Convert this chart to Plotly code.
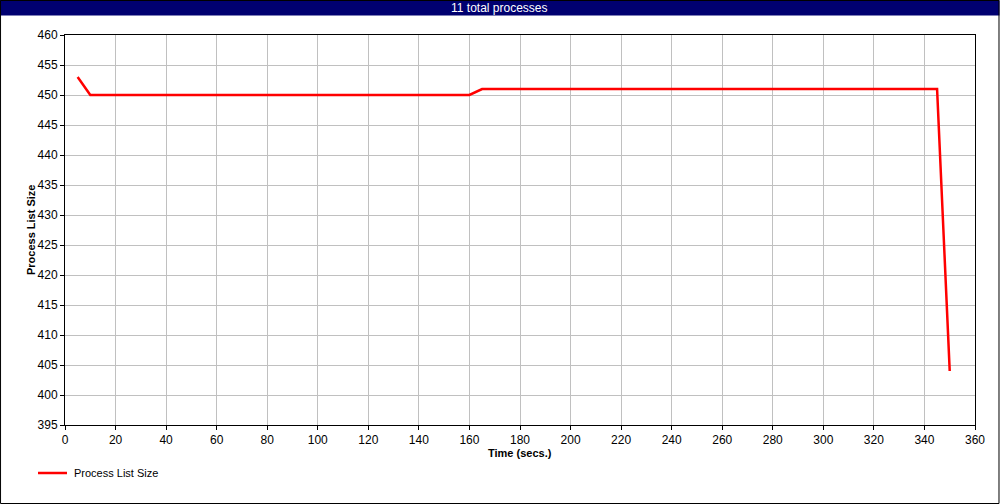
import plotly.graph_objects as go

time_secs = [5, 10, 15, 20, 25, 30, 35, 40, 45, 50, 55, 60, 65, 70, 75, 80, 85, 90, 95, 100,
             105, 110, 115, 120, 125, 130, 135, 140, 145, 150, 155, 160, 165, 170, 175, 180,
             185, 190, 195, 200, 205, 210, 215, 220, 225, 230, 235, 240, 245, 250, 255, 260,
             265, 270, 275, 280, 285, 290, 295, 300, 305, 310, 315, 320, 325, 330, 335, 340,
             345, 350]
process_list_size = [453, 450, 450, 450, 450, 450, 450, 450, 450, 450, 450, 450, 450, 450, 450,
                     450, 450, 450, 450, 450, 450, 450, 450, 450, 450, 450, 450, 450, 450, 450,
                     450, 450, 451, 451, 451, 451, 451, 451, 451, 451, 451, 451, 451, 451, 451,
                     451, 451, 451, 451, 451, 451, 451, 451, 451, 451, 451, 451, 451, 451, 451,
                     451, 451, 451, 451, 451, 451, 451, 451, 451, 404]
x_ticks = list(range(0, 361, 20))
y_ticks = list(range(395, 461, 5))

W, H = 1000, 504
L, R, T, B = 65, 24.5, 35, 79
pw, ph = W - L - R, H - T - B

def px(x):
    return (x - L) / pw

def py(y):
    return (H - B - y) / ph

font = dict(family="Liberation Sans, Arial, sans-serif", size=12, color="black")

fig = go.Figure()
fig.add_trace(go.Scatter(x=time_secs, y=process_list_size, mode="lines",
                         line=dict(color="#ff0000", width=2.5), name="Process List Size",
                         showlegend=False))

axis_common = dict(showline=True, linecolor="black", linewidth=1, mirror=True,
                   showgrid=True, gridcolor="#c0c0c0", gridwidth=1,
                   ticks="outside", ticklen=4, tickcolor="black",
                   tickfont=font, zeroline=False)

fig.update_layout(
    width=W, height=H,
    margin=dict(l=L, r=R, t=T, b=B, pad=0),
    paper_bgcolor="white", plot_bgcolor="white",
    font=font,
    xaxis=dict(range=[0, 360], tickvals=x_ticks, **axis_common),
    yaxis=dict(range=[395, 460], tickvals=y_ticks, **axis_common),
    shapes=[
        dict(type="rect", xref="paper", yref="paper", x0=px(0), x1=px(W), y0=py(15.5), y1=py(0),
             fillcolor="#000070", line=dict(width=0), layer="above"),
        dict(type="rect", xref="paper", yref="paper", x0=px(0.5), x1=px(W - 0.5), y0=py(H - 0.5), y1=py(0.5),
             line=dict(color="black", width=1), fillcolor="rgba(0,0,0,0)"),
        dict(type="line", xref="paper", yref="paper", x0=px(38), x1=px(67), y0=py(473), y1=py(473),
             line=dict(color="#ff0000", width=2.5)),
    ],
    annotations=[
        dict(text="11 total processes", xref="paper", yref="paper", x=px(W / 2), y=py(8),
             showarrow=False, font=dict(family="Liberation Sans, Arial, sans-serif", size=12, color="white"),
             xanchor="center", yanchor="middle"),
        dict(text="<b>Process List Size</b>", xref="paper", yref="paper", x=px(31), y=py(230),
             showarrow=False, textangle=-90, font=dict(family="Liberation Sans, Arial, sans-serif", size=11, color="black"),
             xanchor="center", yanchor="middle"),
        dict(text="<b>Time (secs.)</b>", xref="paper", yref="paper", x=px(520), y=py(453),
             showarrow=False, font=dict(family="Liberation Sans, Arial, sans-serif", size=11, color="black"),
             xanchor="center", yanchor="middle"),
        dict(text="Process List Size", xref="paper", yref="paper", x=px(72), y=py(473),
             showarrow=False, font=dict(family="Liberation Sans, Arial, sans-serif", size=11, color="black"),
             xanchor="left", yanchor="middle"),
    ],
)

fig.write_html("out.html", config={"displayModeBar": False},
               post_script="document.body.style.margin='0';document.body.style.overflow='hidden';")
